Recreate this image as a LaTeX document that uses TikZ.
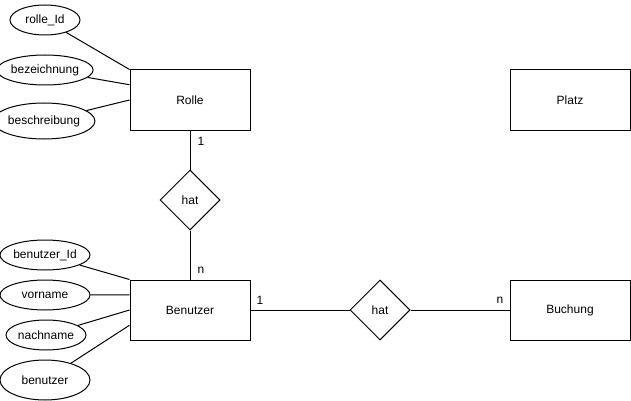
\documentclass[tikz,border=0pt]{standalone}
\usepackage{fontspec}
\setmainfont{Liberation Sans}
\usetikzlibrary{shapes.geometric,calc}
\begin{document}
\begin{tikzpicture}[x=1pt,y=-1pt,
  every node/.style={font=\fontsize{12}{14}\selectfont, inner sep=0pt},
  entity/.style={draw, line width=1pt, minimum width=120pt, minimum height=60pt},
  attr/.style={draw, ellipse, line width=1pt},
  rel/.style={draw, diamond, line width=1pt, minimum width=60pt, minimum height=60pt, aspect=1},
  conn/.style={line width=1pt},
  card/.style={font=\fontsize{12}{14}\selectfont}]
\useasboundingbox (0,0) rectangle (631,401);

% entities
\node[entity] (rolle)    at (190,100) {Rolle};
\node[entity] (platz)    at (570,100) {Platz};
\node[entity] (benutzer) at (190,310) {Benutzer};
\node[entity] (buchung)  at (570,310) {Buchung};

% relationships
\node[rel] (hat1) at (190,200) {hat};
\node[rel] (hat2) at (380,310) {hat};

% attributes of Rolle
\node[attr, minimum width=70pt, minimum height=30pt] (rid)  at (45,20)  {rolle\_Id};
\node[attr, minimum width=80pt, minimum height=30pt] (bez)  at (45,70)  {bezeichnung};
\node[attr, minimum width=82pt, minimum height=36pt] (besc) at (44,121) {beschreibung};

% attributes of Benutzer
\node[attr, minimum width=90pt, minimum height=30pt] (bid)  at (45,255) {benutzer\_Id};
\node[attr, minimum width=90pt, minimum height=30pt] (vn)   at (45,295) {vorname};
\node[attr, minimum width=80pt, minimum height=30pt] (nn)   at (46,335) {nachname};
\node[attr, minimum width=90pt, minimum height=40pt] (bn)   at (45,380) {benutzer};

% attribute links
\draw[conn] (rid)  -- (rolle.north west);
\draw[conn] (bez)  -- ($(rolle.north west)!0.25!(rolle.south west)$);
\draw[conn] (besc) -- (rolle.west);

\draw[conn] (bid) -- (benutzer.north west);
\draw[conn] (vn)  -- ($(benutzer.north west)!0.25!(benutzer.south west)$);
\draw[conn] (nn)  -- (benutzer.west);
\draw[conn] (bn)  -- ($(benutzer.north west)!0.75!(benutzer.south west)$);

% relationship links
\draw[conn] (rolle.south) -- (hat1.north);
\draw[conn] (hat1.south) -- (benutzer.north);
\draw[conn] (benutzer.east) -- (hat2.west);
\draw[conn] (hat2.east) -- (buchung.west);

% cardinalities
\node[card] (c1) at (201,141) {1};
\node[card] (c2) at (201,270) {n};
\node[card] (c3) at (260,300) {1};
\node[card] (c4) at (500,300) {n};
\end{tikzpicture}
\end{document}
